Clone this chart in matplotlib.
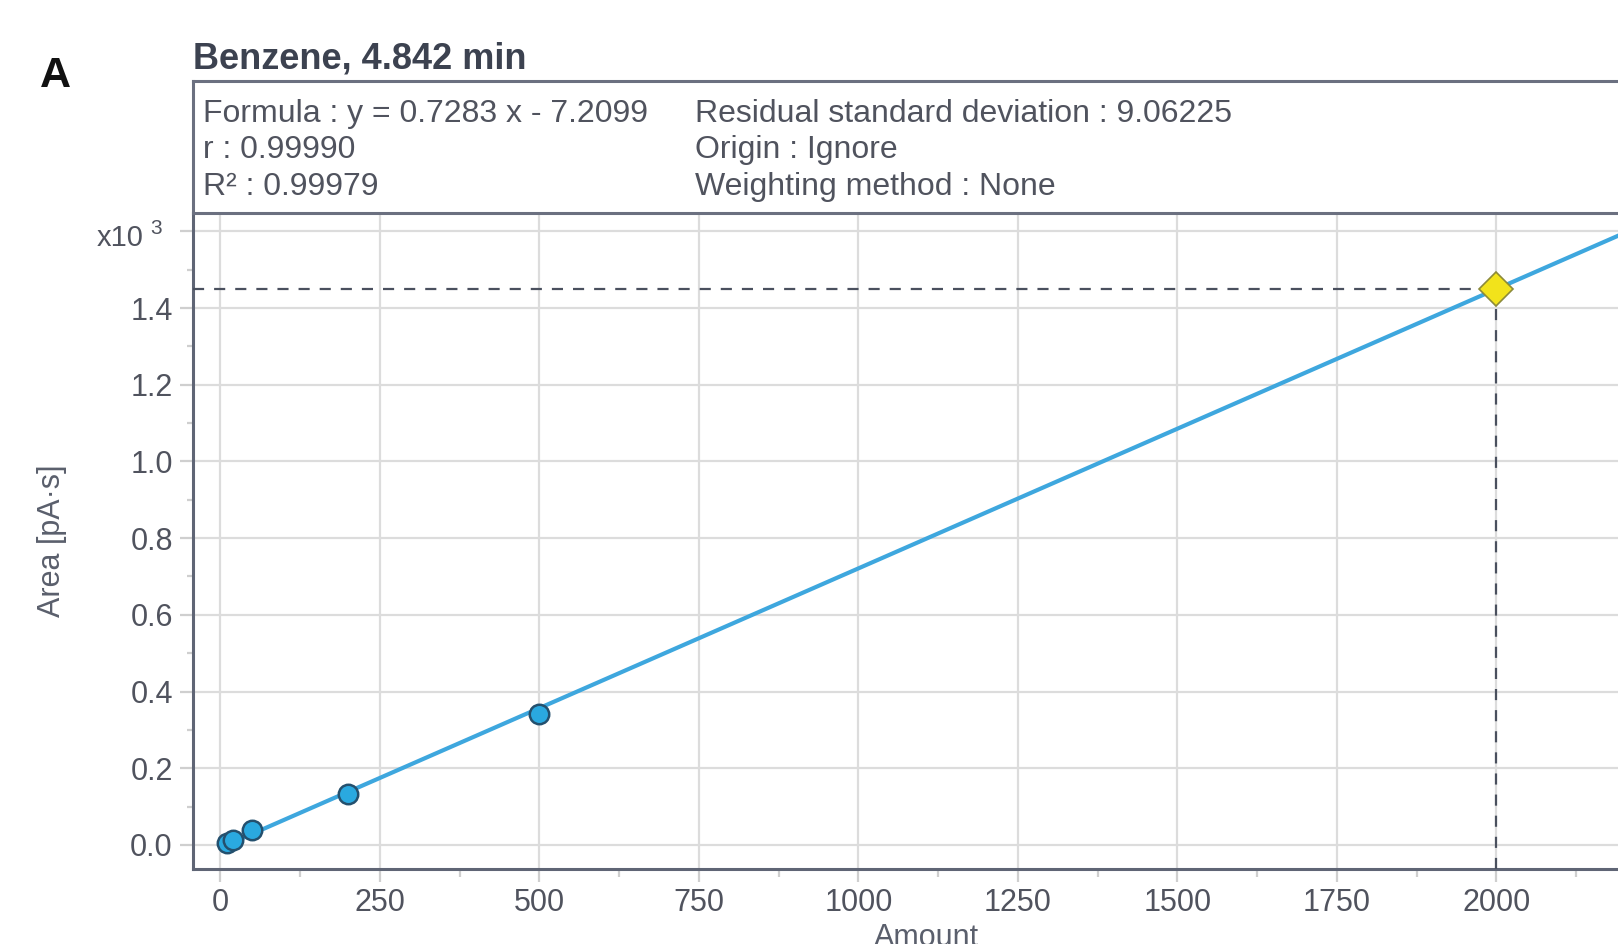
import matplotlib.pyplot as plt
from matplotlib.transforms import blended_transform_factory
from matplotlib.ticker import MultipleLocator
import numpy as np

plt.rcParams['font.family'] = ['Liberation Sans', 'DejaVu Sans']

# kalibreringspunkter (Amount, Area i pA*s)
amounts = [10, 20, 50, 200, 500]
areas = [4, 13, 39, 133, 341]

# regresjonslinje fra formelen i boksen
slope = 0.7283
intercept = -7.2099
line_amounts = [0, 2400]

# ukjent prøve (gul diamant)
unknown_amount = 2000
unknown_area = 1449.4

x_ticks = [0, 250, 500, 750, 1000, 1250, 1500, 1750, 2000]
y_ticks = [0.0, 0.2, 0.4, 0.6, 0.8, 1.0, 1.2, 1.4, 1.6]

title = "Benzene, 4.842 min"
info_left = ["Formula : y = 0.7283 x - 7.2099", "r : 0.99990", "R\u00b2 : 0.99979"]
info_right = ["Residual standard deviation : 9.06225", "Origin : Ignore", "Weighting method : None"]

W, H = 1618, 944
txt = '#50535e'
edge = '#5f6575'


def fx(x):
    return x / W


def fy(y):
    return 1 - y / H


fig = plt.figure(figsize=(W / 100, H / 100), dpi=100)
ax = fig.add_axes([fx(193), fy(869), (1659 - 193) / W, (869 - 212.5) / H])
info = fig.add_axes([fx(193), fy(212.5), (1659 - 193) / W, (212.5 - 81) / H])

# linje + punkter
lx = np.array(line_amounts)
ly = (slope * lx + intercept) / 1000
ax.plot(lx, ly, color='#3ea7de', lw=3, zorder=3, solid_capstyle='butt')

xmin, xmax = -43, 2255
ymin, ymax = -0.0626, 1.649
ax.hlines(unknown_area / 1000, xmin, unknown_amount, colors='#4a505e', lw=1.6,
          linestyles=(0, (5, 4.5)), zorder=4)
ax.vlines(unknown_amount, ymin, unknown_area / 1000, colors='#4a505e', lw=1.6,
          linestyles=(0, (5, 4.5)), zorder=4)

ax.plot(amounts, np.array(areas) / 1000, 'o', ms=14, mfc='#2aa9e0', mec='#24506e',
        mew=1.8, zorder=5, linestyle='none')
ax.plot([unknown_amount], [unknown_area / 1000], 'D', ms=17, mfc='#f2e31b',
        mec='#8c8a3a', mew=1.2, zorder=6)

ax.set_xlim(xmin, xmax)
ax.set_ylim(ymin, ymax)
ax.set_xticks(x_ticks)
ax.set_yticks(y_ticks)
ax.set_yticklabels(["%.1f" % v for v in y_ticks[:-1]] + [""])
ax.xaxis.set_minor_locator(MultipleLocator(125))
ax.yaxis.set_minor_locator(MultipleLocator(0.1))

ax.grid(which='major', color='#dcdcdc', lw=1.6, zorder=0)
ax.set_axisbelow(True)
ax.tick_params(axis='both', which='major', labelsize=22, labelcolor=txt, color='#cfcfcf', width=1.6)
ax.tick_params(axis='x', which='major', length=9, pad=5)
ax.tick_params(axis='y', which='major', length=9.5, pad=5)
ax.tick_params(axis='x', which='minor', length=6, color='#cfcfcf', width=1.6)
ax.tick_params(axis='y', which='minor', length=4.5, color='#cfcfcf', width=1.6)

for s in ['top', 'right']:
    ax.spines[s].set_visible(False)
for s in ['left', 'bottom']:
    ax.spines[s].set_color(edge)
    ax.spines[s].set_linewidth(2.2)

# x10^3
tr = blended_transform_factory(ax.transAxes, ax.transData)
ax.text(-0.034, 1.582, "x10", transform=tr, ha='right', va='center', fontsize=21, color=txt)
ax.text(-0.029, 1.606, "3", transform=tr, ha='left', va='center', fontsize=15, color=txt)

ax.set_ylabel("Area [pA\u00b7s]", fontsize=22, color='#5a5f6c')
ax.yaxis.set_label_coords(-0.086, 0.5)
ax.set_xlabel("Amount", fontsize=22, color='#5a5f6c', va='top')
ax.xaxis.set_label_coords(0.5, -0.082)

# infoboks
info.set_xticks([])
info.set_yticks([])
for s in info.spines.values():
    s.set_color('#6b7080')
    s.set_linewidth(2.2)
for i, (a, b) in enumerate(zip(info_left, info_right)):
    yb = fy(121.7 + i * 36.7)
    fig.text(fx(203), yb, a, fontsize=23, color=txt, va='baseline')
    fig.text(fx(695), yb, b, fontsize=23, color=txt, va='baseline')

fig.text(fx(193), fy(68), title, fontsize=26, fontweight='bold', color='#3c4250', va='baseline')
fig.text(fx(40), fy(87), "A", fontsize=31, fontweight='bold', color='#111111', va='baseline')

fig.savefig("out.png", dpi=100)
